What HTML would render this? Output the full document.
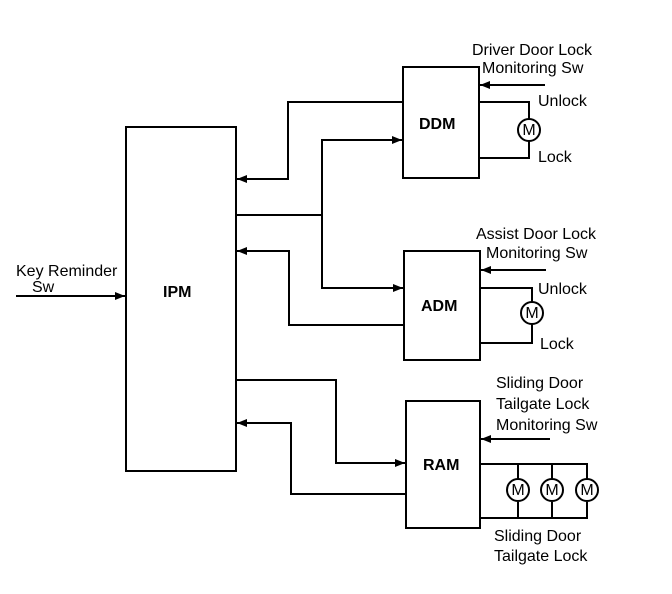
<!DOCTYPE html>
<html><head><style>body{margin:0;background:#fff}svg{display:block}text{font-family:"Liberation Sans",sans-serif;font-size:16px;fill:#000}</style></head>
<body>
<svg width="672" height="594" viewBox="0 0 672 594">
<defs><marker id="a" viewBox="0 0 10 10" refX="10" refY="5" markerWidth="5" markerHeight="5" orient="auto"><path d="M0,1 L10,5 L0,9z" fill="#000"/></marker></defs>
<g fill="none" stroke="#000" stroke-width="2">
<rect x="126" y="127" width="110" height="344"/>
<rect x="403" y="67" width="76" height="111"/>
<rect x="404" y="251" width="76" height="109"/>
<rect x="406" y="401" width="74" height="127"/>
<path d="M16 296H125" marker-end="url(#a)"/>
<path d="M403 102H288V179H237" marker-end="url(#a)"/>
<path d="M236 215H322V140H402" marker-end="url(#a)"/>
<path d="M322 215V288H403" marker-end="url(#a)"/>
<path d="M404 325H289V251H237" marker-end="url(#a)"/>
<path d="M236 380H336V463H405" marker-end="url(#a)"/>
<path d="M406 494H291V423H237" marker-end="url(#a)"/>
<path d="M545 85H480" marker-end="url(#a)"/>
<path d="M546 270H481" marker-end="url(#a)"/>
<path d="M550 439H481" marker-end="url(#a)"/>
<path d="M479 102H529V119M529 141V158H479"/>
<circle cx="529" cy="130" r="11"/>
<path d="M480 288H532V302M532 324V343H480"/>
<circle cx="532" cy="313" r="11"/>
<path d="M480 464H587V479M518 464V479M552 464V479M480 518H587V502M518 518V502M552 518V502"/>
<circle cx="518" cy="490" r="11"/><circle cx="552" cy="490" r="11"/><circle cx="587" cy="490" r="11"/>
</g>
<g font-size="14" text-anchor="middle"><text x="529" y="135" font-size="14">M</text><text x="532" y="318" font-size="14">M</text><text x="518" y="495" font-size="14">M</text><text x="552" y="495" font-size="14">M</text><text x="587" y="495" font-size="14">M</text></g>
<text x="163" y="297" font-weight="bold">IPM</text><text x="419" y="129" font-weight="bold">DDM</text><text x="421" y="311" font-weight="bold">ADM</text><text x="423" y="470" font-weight="bold">RAM</text>
<text x="16" y="276">Key Reminder</text><text x="32" y="292">Sw</text>
<text x="472" y="55">Driver Door Lock</text><text x="482" y="73">Monitoring Sw</text>
<text x="538" y="106">Unlock</text><text x="538" y="162">Lock</text>
<text x="476" y="239">Assist Door Lock</text><text x="486" y="258">Monitoring Sw</text>
<text x="538" y="294">Unlock</text><text x="540" y="349">Lock</text>
<text x="496" y="388">Sliding Door</text><text x="496" y="409">Tailgate Lock</text><text x="496" y="430">Monitoring Sw</text>
<text x="494" y="541">Sliding Door</text><text x="494" y="561">Tailgate Lock</text>
</svg>
</body></html>
